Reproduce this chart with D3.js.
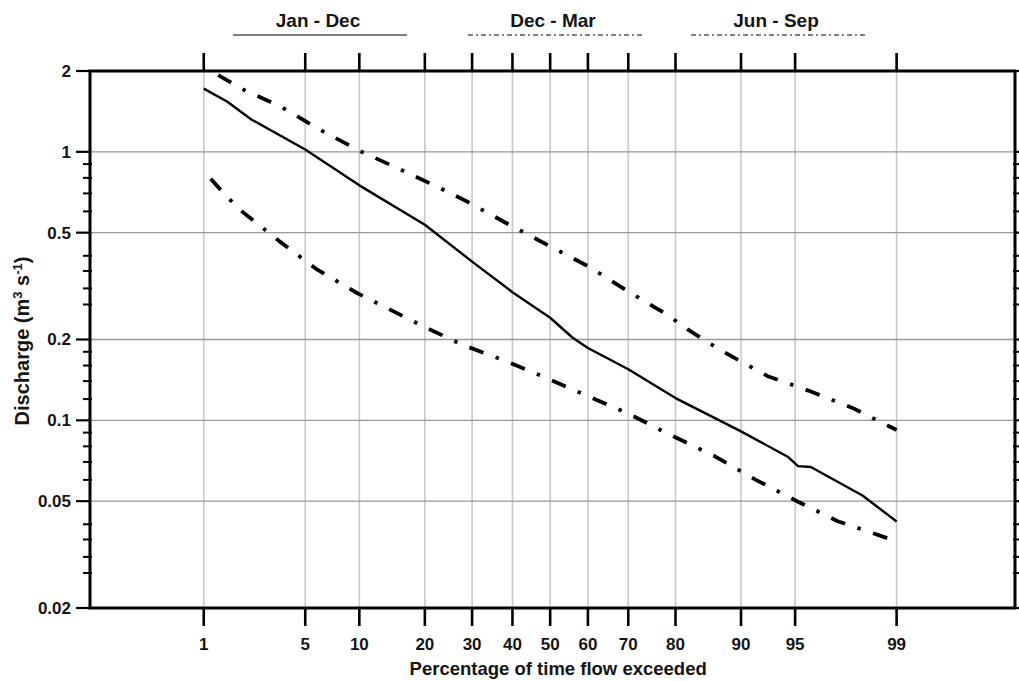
<!DOCTYPE html>
<html>
<head>
<meta charset="utf-8">
<script src="https://cdnjs.cloudflare.com/ajax/libs/d3/7.8.5/d3.min.js"></script>
<style>
body { margin: 0; background: #fff; }
text { font-family: "Liberation Sans", Arial, sans-serif; font-weight: bold; fill: #151515; }
</style>
</head>
<body>
<div id="chart"></div>
<script>
const width = 1019;
const height = 681;

// percentage of time exceeded / discharge (m3 s-1)
const pctJanDec = [1, 1.5, 2.24, 5, 10, 20, 30, 40, 50, 56, 60, 70, 80, 90, 94.5, 95.2, 96, 98.2, 99];
const qJanDec = [1.72, 1.54, 1.32, 1.02, 0.75, 0.535, 0.39, 0.30, 0.241, 0.203, 0.186, 0.155, 0.121, 0.091, 0.073, 0.0675, 0.067, 0.0525, 0.042];

const pctDecMar = [1.29, 1.9, 3.55, 6.08, 10, 16.4, 22.9, 28.6, 38.6, 49.4, 60.2, 70, 78.6, 82.2, 85.4, 88.4, 92.8, 96, 97.9, 99];
const qDecMar = [1.93, 1.72, 1.47, 1.21, 1.01, 0.845, 0.734, 0.656, 0.541, 0.449, 0.374, 0.302, 0.246, 0.218, 0.196, 0.176, 0.146, 0.128, 0.111, 0.092];

const pctJunSep = [1.13, 1.49, 1.96, 3.46, 5.82, 9.73, 12.4, 19.7, 27.5, 37.9, 49.4, 60, 70, 78.5, 86.5, 91.5, 95.06, 97.3, 98.86];
const qJunSep = [0.794, 0.682, 0.595, 0.464, 0.366, 0.298, 0.272, 0.224, 0.192, 0.167, 0.143, 0.123, 0.106, 0.0892, 0.0736, 0.0604, 0.0502, 0.0422, 0.0362];

const seriesNames = ["Jan - Dec", "Dec - Mar", "Jun - Sep"];

const xTicks = [1, 5, 10, 20, 30, 40, 50, 60, 70, 80, 90, 95, 99];
const yTicks = [0.02, 0.05, 0.1, 0.2, 0.5, 1, 2];
const yMinor = [0.9, 0.8, 0.7, 0.6, 0.41, 0.36, 0.31, 0.27, 0.18, 0.16, 0.14, 0.12,
    0.09, 0.08, 0.07, 0.06, 0.041, 0.036, 0.031, 0.027];

const plotL = 90, plotR = 1015, plotT = 71, plotB = 608;

// inverse normal cdf (Acklam)
function probit(p) {
    const a = [-39.6968302866538, 220.946098424521, -275.928510446969, 138.357751867269, -30.6647980661472, 2.50662827745924];
    const b = [-54.4760987982241, 161.585836858041, -155.698979859887, 66.8013118877197, -13.2806815528857];
    const c = [-0.00778489400243029, -0.322396458041136, -2.40075827716184, -2.54973253934373, 4.37466414146497, 2.93816398269878];
    const d = [0.00778469570904146, 0.32246712907004, 2.445134137143, 3.75440866190742];
    const plow = 0.02425;
    let q, r;
    if (p < plow) {
        q = Math.sqrt(-2 * Math.log(p));
        return (((((c[0] * q + c[1]) * q + c[2]) * q + c[3]) * q + c[4]) * q + c[5]) /
            ((((d[0] * q + d[1]) * q + d[2]) * q + d[3]) * q + 1);
    } else if (p <= 1 - plow) {
        q = p - 0.5;
        r = q * q;
        return (((((a[0] * r + a[1]) * r + a[2]) * r + a[3]) * r + a[4]) * r + a[5]) * q /
            (((((b[0] * r + b[1]) * r + b[2]) * r + b[3]) * r + b[4]) * r + 1);
    } else {
        q = Math.sqrt(-2 * Math.log(1 - p));
        return -(((((c[0] * q + c[1]) * q + c[2]) * q + c[3]) * q + c[4]) * q + c[5]) /
            ((((d[0] * q + d[1]) * q + d[2]) * q + d[3]) * q + 1);
    }
}

const zScale = d3.scaleLinear()
    .domain([probit(0.001), probit(0.9991)])
    .range([plotL, plotR]);
const x = pct => zScale(probit(pct / 100));

const y = d3.scaleLog()
    .domain([0.02, 2])
    .range([plotB, plotT]);

const svg = d3.select("#chart")
    .append("svg")
    .attr("width", width)
    .attr("height", height);

// grid
svg.append("g")
    .selectAll("line")
    .data(xTicks)
    .enter()
    .append("line")
    .attr("x1", d => x(d))
    .attr("x2", d => x(d))
    .attr("y1", plotT)
    .attr("y2", plotB)
    .style("stroke", "#c8c8c8")
    .style("stroke-width", 1.6);

svg.append("g")
    .selectAll("line")
    .data(yTicks.slice(1, -1))
    .enter()
    .append("line")
    .attr("x1", plotL)
    .attr("x2", plotR)
    .attr("y1", d => y(d))
    .attr("y2", d => y(d))
    .style("stroke", "#999")
    .style("stroke-width", 1.4);

// curves
const series = [
    { name: seriesNames[0], pct: pctJanDec, q: qJanDec, dash: null, w: 2.4 },
    { name: seriesNames[1], pct: pctDecMar, q: qDecMar, dash: "15,13,3.5,13", w: 3.8 },
    { name: seriesNames[2], pct: pctJunSep, q: qJunSep, dash: "15,13,3.5,13", w: 3.8 }
];

const line = d3.line()
    .x(d => x(d[0]))
    .y(d => y(d[1]));

svg.append("g")
    .selectAll("path")
    .data(series)
    .enter()
    .append("path")
    .attr("d", s => line(d3.zip(s.pct, s.q)))
    .style("fill", "none")
    .style("stroke", "#000")
    .style("stroke-width", s => s.w)
    .style("stroke-linejoin", "round")
    .style("stroke-dasharray", s => s.dash);

// frame
svg.append("rect")
    .attr("x", plotL)
    .attr("y", plotT)
    .attr("width", plotR - plotL)
    .attr("height", plotB - plotT)
    .style("fill", "none")
    .style("stroke", "#000")
    .style("stroke-width", 3);

// x ticks top and bottom
const xt = svg.append("g");
[[plotB, 18], [plotT, -18]].forEach(([y0, len]) => {
    xt.append("g")
        .selectAll("line")
        .data(xTicks)
        .enter()
        .append("line")
        .attr("x1", d => x(d))
        .attr("x2", d => x(d))
        .attr("y1", y0)
        .attr("y2", y0 + len)
        .style("stroke", "#000")
        .style("stroke-width", 2.6);
});
xt.selectAll("text")
    .data(xTicks)
    .enter()
    .append("text")
    .attr("x", d => x(d))
    .attr("y", 650)
    .attr("text-anchor", "middle")
    .style("font-size", "17px")
    .text(d => d);

svg.append("text")
    .attr("x", x(50) + 8)
    .attr("y", 675)
    .attr("text-anchor", "middle")
    .style("font-size", "18.5px")
    .text("Percentage of time flow exceeded");

// y ticks left and right
const yt = svg.append("g");
[plotL, plotR].forEach((ax, i) => {
    const dir = i === 0 ? -1 : 1;
    yt.append("g")
        .selectAll("line")
        .data(yTicks)
        .enter()
        .append("line")
        .attr("x1", ax)
        .attr("x2", ax + dir * 14)
        .attr("y1", d => y(d))
        .attr("y2", d => y(d))
        .style("stroke", "#000")
        .style("stroke-width", 2.2);
    yt.append("g")
        .selectAll("line")
        .data(yMinor)
        .enter()
        .append("line")
        .attr("x1", ax - dir * 2)
        .attr("x2", ax + dir * 7)
        .attr("y1", d => y(d))
        .attr("y2", d => y(d))
        .style("stroke", "#000")
        .style("stroke-width", 2);
});
yt.append("g")
    .selectAll("text")
    .data(yTicks)
    .enter()
    .append("text")
    .attr("x", 71)
    .attr("y", d => y(d))
    .attr("dy", "0.35em")
    .attr("text-anchor", "end")
    .style("font-size", "17px")
    .text(d => d);

const yTitle = svg.append("text")
    .attr("transform", "translate(29,341) rotate(-90)")
    .attr("text-anchor", "middle")
    .style("font-size", "20px");
yTitle.append("tspan").text("Discharge (m");
yTitle.append("tspan").attr("dy", -7).style("font-size", "13px").text("3");
yTitle.append("tspan").attr("dy", 7).text(" s");
yTitle.append("tspan").attr("dy", -7).style("font-size", "13px").text("-1");
yTitle.append("tspan").attr("dy", 7).text(")");

// legend across the top
const legendX = [320, 555, 778];
const legend = svg.append("g")
    .selectAll("g")
    .data(series)
    .enter()
    .append("g")
    .attr("transform", (d, i) => "translate(" + legendX[i] + ",0)");
legend.append("text")
    .attr("x", -2)
    .attr("y", 27)
    .attr("text-anchor", "middle")
    .style("font-size", "19px")
    .text(d => d.name);
legend.append("line")
    .attr("x1", -87)
    .attr("x2", 87)
    .attr("y1", 35)
    .attr("y2", 35)
    .style("stroke", "#555")
    .style("stroke-width", 1.6)
    .style("stroke-dasharray", d => d.dash ? "5,3,2,3" : null);
</script>
</body>
</html>
